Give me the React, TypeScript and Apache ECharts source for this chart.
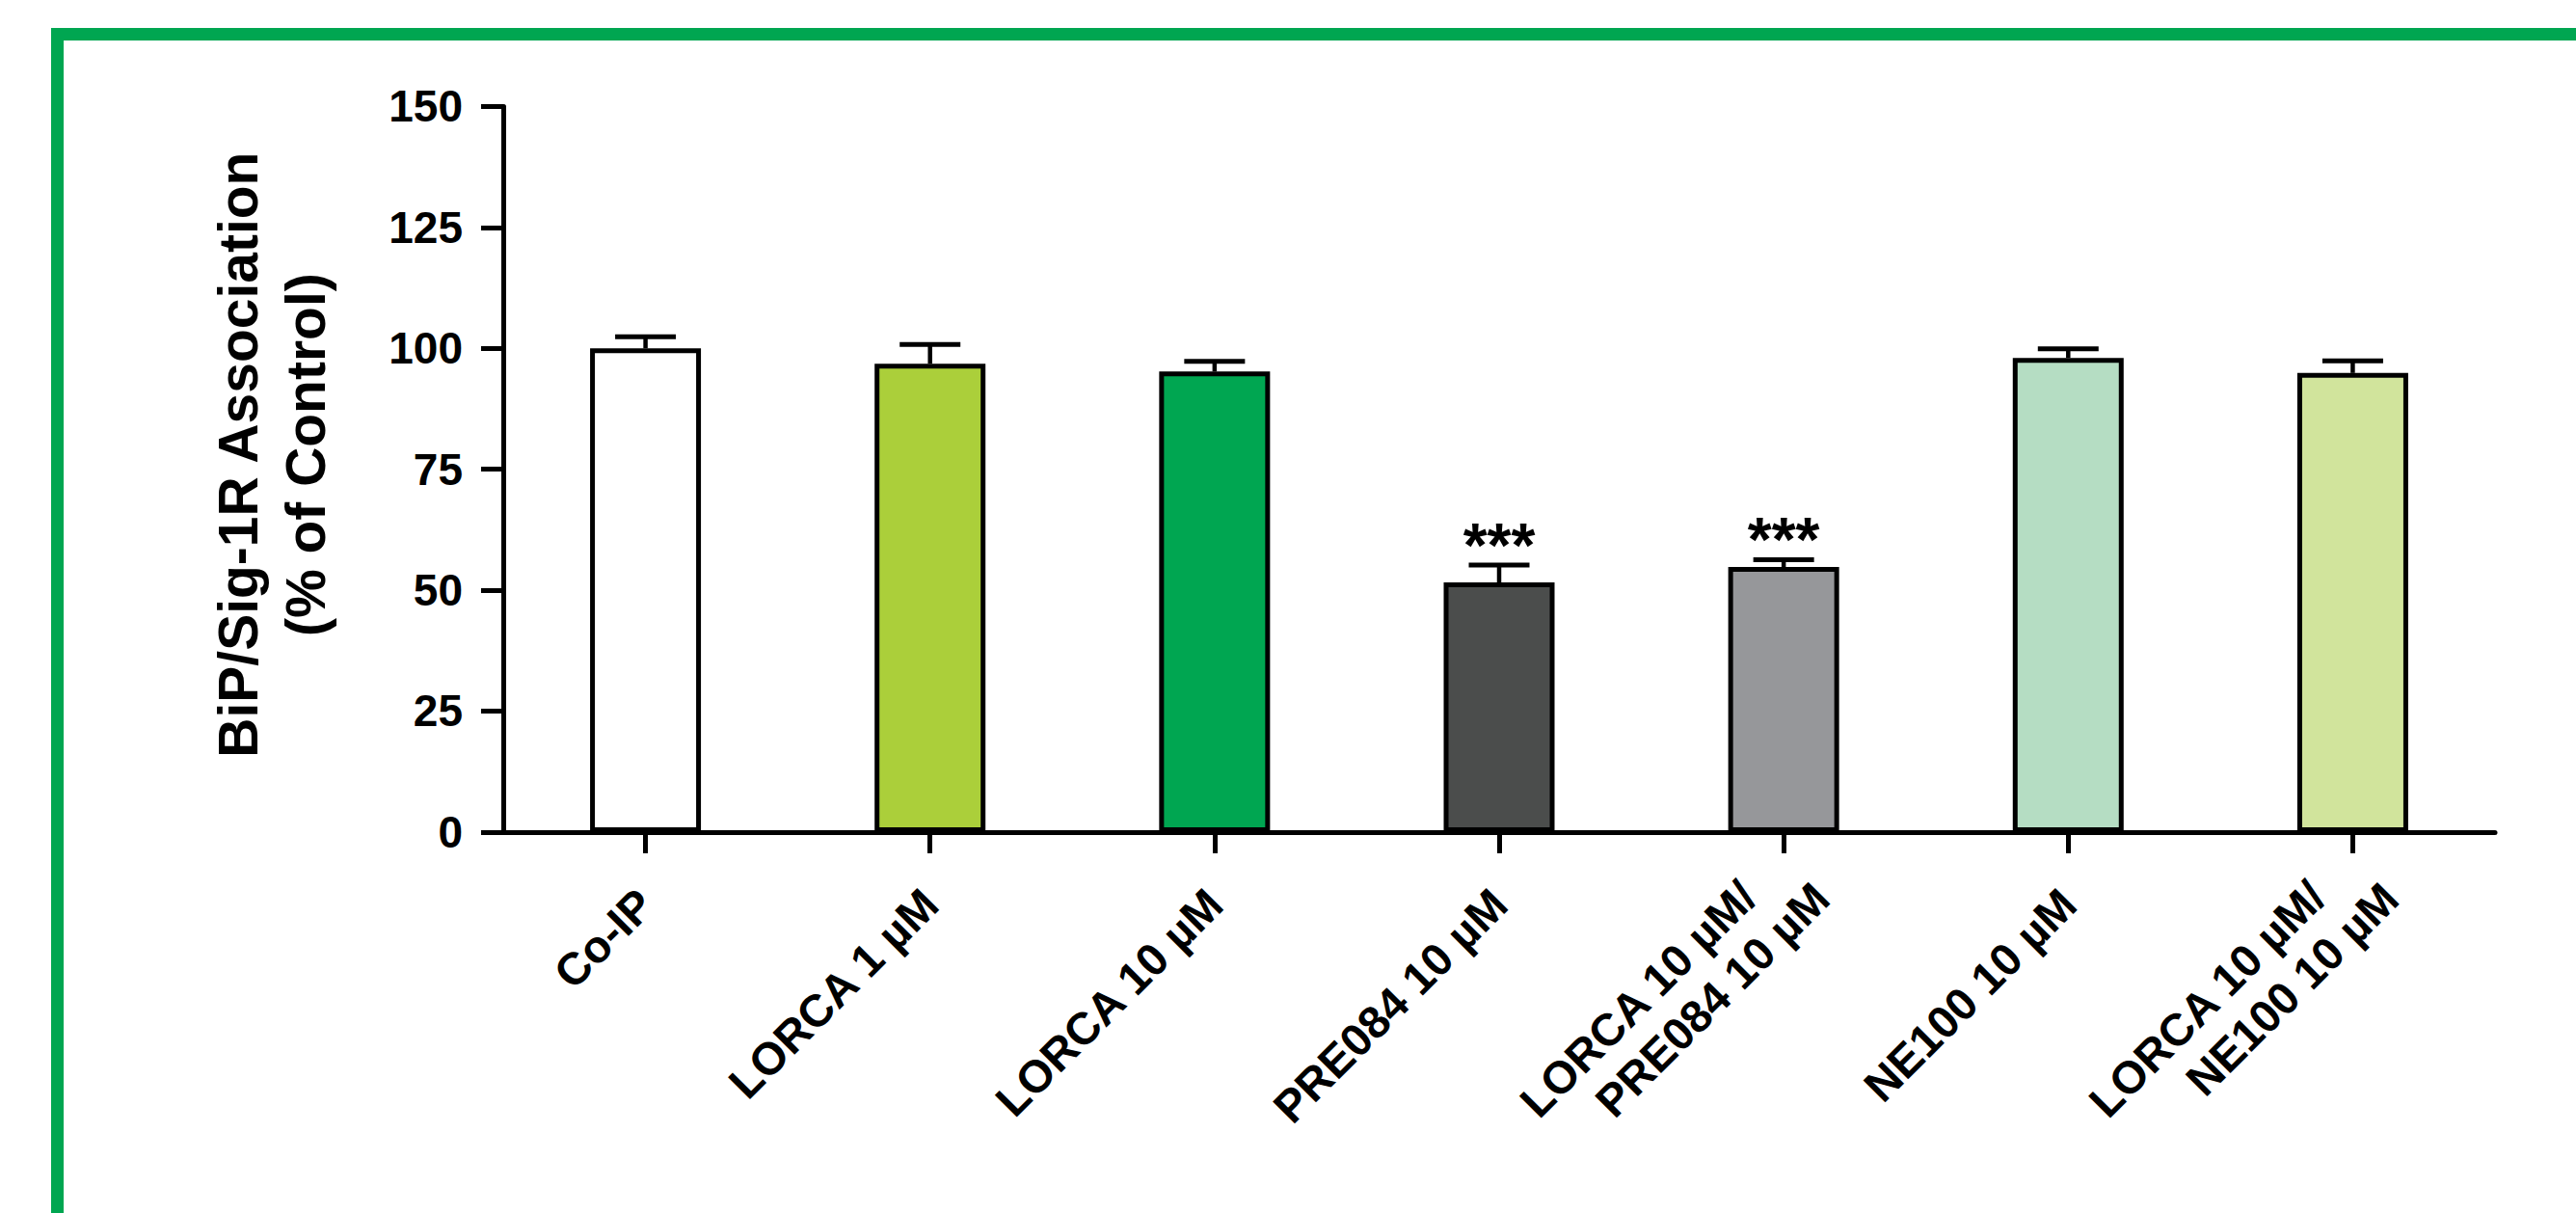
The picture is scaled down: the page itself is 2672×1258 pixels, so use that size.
import React, { useEffect, useRef } from "react";
import * as echarts from "echarts";

const categories = [
  "Co-IP",
  "LORCA 1 µM",
  "LORCA 10 µM",
  "PRE084 10 µM",
  "LORCA 10 µM/\nPRE084 10 µM",
  "NE100 10 µM",
  "LORCA 10 µM/\nNE100 10 µM",
];
const means = [100, 96.8, 95.2, 51.6, 54.8, 98.0, 94.9];
const errors = [2.4, 4.0, 2.1, 3.6, 1.5, 1.9, 2.5];
const stars = ["", "", "", "***", "***", "", ""];
const barColors = ["#FFFFFF", "#ABCF3A", "#00A651", "#4B4D4C", "#96979A", "#B5DDC3", "#D1E49C"];
const yMin = 0;
const yMax = 150;
const yStep = 25;
const yTitle = "BiP/Sig-1R Association\n(% of Control)";

const FONT = '"Liberation Sans", Arial, Helvetica, sans-serif';
const NBSP = "\u00a0";

export default function App() {
  const ref = useRef<HTMLDivElement>(null);
  useEffect(() => {
    if (!ref.current) return;
    const chart = echarts.init(ref.current, null, { renderer: "svg" });
    const labelBase = {
      rotate: 45,
      interval: 0,
      fontSize: 47,
      fontWeight: "bold" as const,
      fontFamily: FONT,
      color: "#000",
      lineHeight: 55,
    };
    chart.setOption({
      animation: false,
      backgroundColor: "#ffffff",
      graphic: [
        {
          type: "rect",
          shape: { x: 59.5, y: 35.5, width: 3000, height: 3000 },
          style: { fill: "none", stroke: "#00A651", lineWidth: 13 },
          silent: true,
          z: 0,
        },
      ],
      grid: {
        left: 522,
        top: 110.4,
        width: 2066,
        height: 752.5,
        containLabel: false,
        outerBoundsMode: "none",
      },
      xAxis: [
        {
          type: "category",
          data: categories,
          position: "bottom",
          boundaryGap: true,
          axisLine: { show: true, lineStyle: { color: "#000", width: 5 } },
          axisTick: { show: true, alignWithLabel: true, length: 22, lineStyle: { color: "#000", width: 5 } },
          axisLabel: {
            ...labelBase,
            margin: 67,
            formatter: (v: string) => (v.indexOf("\n") >= 0 ? "" : v),
          },
          splitLine: { show: false },
        },
        {
          type: "category",
          data: categories,
          position: "bottom",
          offset: 0,
          boundaryGap: true,
          axisLine: { show: false },
          axisTick: { show: false },
          axisLabel: {
            ...labelBase,
            margin: 22,
            formatter: (v: string) => {
              if (v.indexOf("\n") < 0) return "";
              const parts = v.split("\n");
              return NBSP + "\n" + parts[0] + NBSP.repeat(4) + "\n" + parts[1];
            },
          },
          splitLine: { show: false },
        },
      ],
      yAxis: {
        type: "value",
        min: yMin,
        max: yMax,
        interval: yStep,
        name: yTitle,
        nameLocation: "middle",
        nameRotate: 90,
        nameGap: 170,
        nameTextStyle: {
          fontSize: 57,
          fontWeight: "bold",
          fontFamily: FONT,
          color: "#000",
          lineHeight: 70,
          padding: [0, 0, 0, 30],
        },
        axisLine: { show: true, lineStyle: { color: "#000", width: 5 } },
        axisTick: { show: true, length: 23, lineStyle: { color: "#000", width: 5 } },
        axisLabel: {
          fontSize: 46,
          fontWeight: "bold",
          fontFamily: FONT,
          color: "#000",
          margin: 42,
        },
        splitLine: { show: false },
      },
      series: [
        {
          type: "bar",
          xAxisIndex: 0,
          barWidth: 115,
          data: means.map((v, i) => ({ value: v, itemStyle: { color: barColors[i] } })),
          itemStyle: { borderColor: "#000", borderWidth: 5 },
          z: 2,
        },
        {
          type: "custom",
          xAxisIndex: 0,
          z: 3,
          data: means.map((v, i) => [i, v, errors[i]]),
          renderItem: (params: any, api: any) => {
            const i = api.value(0);
            const m = api.value(1);
            const e = api.value(2);
            const base = api.coord([i, m]);
            const top = api.coord([i, m + e]);
            const children: any[] = [
              {
                type: "line",
                shape: { x1: base[0], y1: base[1], x2: top[0], y2: top[1] },
                style: { stroke: "#000", lineWidth: 4.5 },
              },
              {
                type: "line",
                shape: { x1: top[0] - 31.5, y1: top[1], x2: top[0] + 31.5, y2: top[1] },
                style: { stroke: "#000", lineWidth: 5 },
              },
            ];
            if (stars[i]) {
              children.push({
                type: "text",
                style: {
                  text: stars[i],
                  x: top[0],
                  y: top[1] + 12,
                  align: "center",
                  verticalAlign: "bottom",
                  fontSize: 64,
                  fontWeight: "bold",
                  fontFamily: FONT,
                  fill: "#000",
                },
              });
            }
            return { type: "group", children };
          },
        },
      ],
    });
    return () => chart.dispose();
  }, []);
  return (
    <div
      ref={ref}
      style={{ position: "absolute", left: 0, top: 0, width: 2672, height: 1258, background: "#fff" }}
    />
  );
}
